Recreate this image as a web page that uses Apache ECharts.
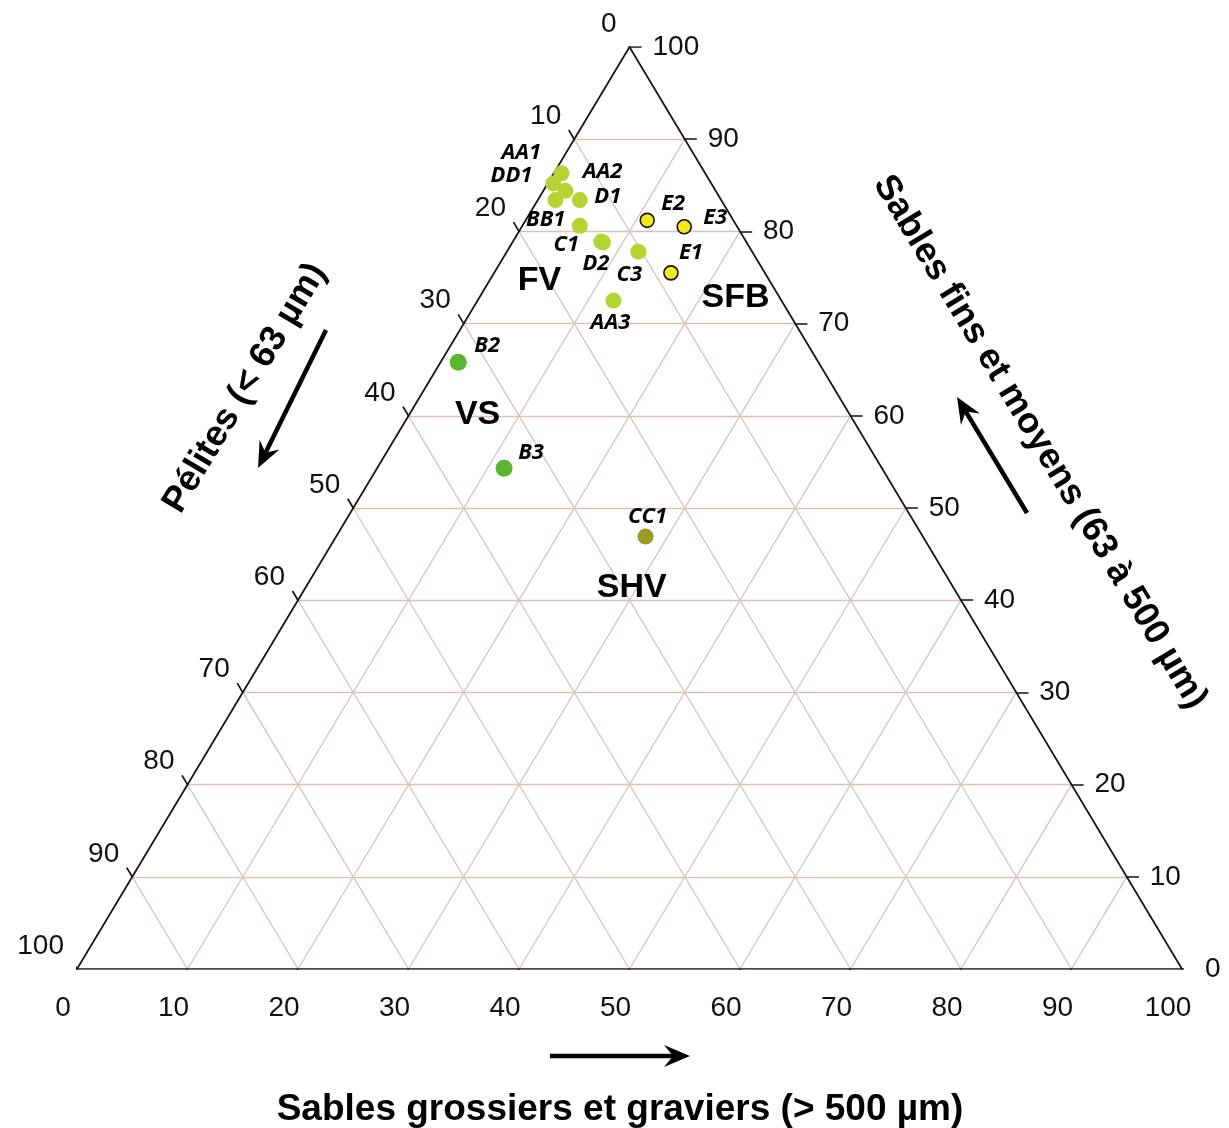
<!DOCTYPE html>
<html><head><meta charset="utf-8">
<script src="https://cdn.jsdelivr.net/npm/echarts@6/dist/echarts.min.js"></script>
<style>html,body{margin:0;padding:0;background:#fff}#c{width:1229px;height:1128px}</style>
</head><body><div id="c"></div>
<script>
// ---- data (percent) ----
const sampleNames     = ['AA1','DD1','AA2','',  'D1','BB1','C1','D2','C3','AA3','E2','E3','E1','B2','B3','CC1'];
const pelites         = [14.3, 15.0, 13.0, 13.6, 12.8, 14.2, 13.1, 13.0, 10.3, 15.2, 7.8, 4.8, 8.5, 32.6, 34.2, 25.1];
const sablesFins      = [85.2, 83.4, 86.3, 84.4, 83.4, 80.6, 78.9, 78.8, 77.8, 72.5, 81.2, 80.5, 75.5, 65.8, 54.3, 46.9];
const sablesGrossiers = [0.5, 1.6, 0.7, 2.0, 3.8, 5.2, 8.0, 8.2, 11.9, 12.3, 11.0, 14.7, 16.0, 1.6, 11.5, 28.0];
const sampleClass     = ['FV','FV','FV','FV','FV','FV','FV','FV','FV','FV','SFB','SFB','SFB','VS','VS','SHV'];

const zoneNames           = ['FV','VS','SFB','SHV'];
const zonePelites         = [20.8, 33.7, 4.0, 29.1];
const zoneSablesFins      = [74.7, 60.1, 72.8, 41.4];
const zoneSablesGrossiers = [4.5, 6.2, 23.2, 29.5];

const tickValues = [0,10,20,30,40,50,60,70,80,90,100];

// ---- styles ----
const classStyle = {
  FV:  {color:'#b6d334', size:16, border:null},
  VS:  {color:'#5cb531', size:17, border:null},
  SHV: {color:'#9b9a24', size:16, border:null},
  SFB: {color:'#f8e71c', size:14, border:'#111'}
};
const labelOffset = {
  AA1:[-32,-31], DD1:[-44,-24], AA2:[41,-2], D1:[28,-3], BB1:[-34,-6], C1:[-35,3],
  D2:[-7,21], C3:[-9,23], AA3:[-3,22], E2:[26,-17], E3:[31,-9], E1:[20,-20],
  B2:[29,-17], B3:[27,-16], CC1:[2,-20]
};

// ternary (P, S, G) -> cartesian (X, Y) in 0..100
function cart(s, g){ return [g + s/2, s]; }
function tern(p, s, g){ const t = p + s + g; return cart(s/t*100, g/t*100); }

// grid lines
const gridLines = [];
tickValues.forEach(k => {
  if (k === 0 || k === 100) return;
  gridLines.push({coords:[tern(100-k,k,0), tern(0,k,100-k)]});   // constant S
  gridLines.push({coords:[tern(k,100-k,0), tern(k,0,100-k)]});   // constant P
  gridLines.push({coords:[tern(100-k,0,k), tern(0,100-k,k)]});   // constant G
});
const border = [
  {coords:[tern(100,0,0), tern(0,0,100)]},
  {coords:[tern(0,0,100), tern(0,100,0)]},
  {coords:[tern(0,100,0), tern(100,0,0)]}
];
const tickLines = [];
const dL = 1.0, dR = 1.1, dB = 1.0;
tickValues.forEach(k => {
  tickLines.push({coords:[cart(100-k,0), cart(100-k+dL,-dL)]});     // left axis (pélites)
  tickLines.push({coords:[cart(k,100-k), cart(k,100-k+dR)]});        // right axis (sables fins)
  tickLines.push({coords:[cart(0,k), cart(-dB,k)]});                  // bottom axis (grossiers)
});

const tickFont = {fontFamily:'Liberation Sans, Arial, sans-serif', fontSize:28, color:'#111', opacity:1};
const leftTicks = tickValues.map(k => ({value:[...tern(k,100-k,0), k]}));
const rightTicks = tickValues.map(k => ({value:[...tern(0,k,100-k), k]}));
const bottomTicks = tickValues.map(k => ({value:[...tern(100-k,0,k), k]}));

const points = sampleNames.map((n,i) => {
  const st = classStyle[sampleClass[i]];
  return {
    name:n,
    value: tern(pelites[i], sablesFins[i], sablesGrossiers[i]),
    symbolSize: st.size,
    itemStyle: {color: st.color, opacity:1, borderColor: st.border || st.color, borderWidth: st.border ? 1.6 : 0},
    label: {show: n !== '', offset: labelOffset[n] || [0,0]}
  };
});
const zones = zoneNames.map((n,i) => ({name:n, value: tern(zonePelites[i], zoneSablesFins[i], zoneSablesGrossiers[i])}));

function arrow(x1,y1,x2,y2){
  const dx=x2-x1, dy=y2-y1, len=Math.hypot(dx,dy), ux=dx/len, uy=dy/len, nx=-uy, ny=ux;
  const L=26, W=11, N=17;
  return [
    {type:'line', shape:{x1:x1,y1:y1,x2:x2-ux*N,y2:y2-uy*N}, style:{stroke:'#000', lineWidth:4.5}},
    {type:'polygon', shape:{points:[[x2,y2],[x2-ux*L+nx*W,y2-uy*L+ny*W],[x2-ux*N,y2-uy*N],[x2-ux*L-nx*W,y2-uy*L-ny*W]]}, style:{fill:'#000'}}
  ];
}
const titleFont = {fontFamily:'Liberation Sans, Arial, sans-serif', fontWeight:'bold', fontSize:36, fill:'#000', align:'center', verticalAlign:'middle'};
const hiddenMark = {color:'rgba(0,0,0,0)', opacity:1};

const chart = echarts.init(document.getElementById('c'), null, {renderer:'canvas'});
chart.setOption({
  backgroundColor:'#fff',
  animation:false,
  grid:{left:77, top:47, width:1105, height:922},
  xAxis:{type:'value', min:0, max:100, show:false},
  yAxis:{type:'value', min:0, max:100, show:false},
  series:[
    {type:'lines', coordinateSystem:'cartesian2d', silent:true, z:1, data:gridLines,
     lineStyle:{color:'#d6c3bd', width:1.3, opacity:1}},
    {type:'lines', coordinateSystem:'cartesian2d', silent:true, z:2, data:border.concat(tickLines),
     lineStyle:{color:'#111', width:1.7, opacity:1}},
    {type:'scatter', silent:true, z:3, symbolSize:1, itemStyle:hiddenMark, data:leftTicks,
     label:{show:true, position:'inside', align:'right', verticalAlign:'middle', offset:[-13,-23], formatter:p=>p.value[2], ...tickFont}},
    {type:'scatter', silent:true, z:3, symbolSize:1, itemStyle:hiddenMark, data:rightTicks,
     label:{show:true, position:'inside', align:'left', verticalAlign:'middle', offset:[23,0], formatter:p=>p.value[2], ...tickFont}},
    {type:'scatter', silent:true, z:3, symbolSize:1, itemStyle:hiddenMark, data:bottomTicks,
     label:{show:true, position:'inside', align:'center', verticalAlign:'middle', offset:[-14,39], formatter:p=>p.value[2], ...tickFont}},
    {type:'scatter', silent:true, z:4, symbolSize:1, itemStyle:hiddenMark, data:zones,
     label:{show:true, position:'inside', formatter:'{b}', fontFamily:'Liberation Sans, Arial, sans-serif', fontWeight:'bold', fontSize:34, color:'#000', opacity:1}},
    {type:'scatter', z:5, data:points, itemStyle:{opacity:1},
     label:{position:'inside', formatter:'{b}', fontFamily:'Open Sans, sans-serif', fontStyle:'italic', fontWeight:'bold', fontSize:22, color:'#000', opacity:1}}
  ],
  graphic:[
    {type:'text', x:245, y:388, rotation:59*Math.PI/180, style:{text:'Pélites (< 63 µm)', ...titleFont}},
    {type:'text', x:1040, y:442, rotation:-59*Math.PI/180, style:{text:'Sables fins et moyens (63 à 500 µm)', ...titleFont}},
    {type:'text', x:620, y:1110, style:{text:'Sables grossiers et graviers (> 500 µm)', ...titleFont, fontSize:37}},
    ...arrow(326,330,258,468),
    ...arrow(1027,513,957,397),
    ...arrow(550,1056,690,1056)
  ]
});
</script></body></html>
